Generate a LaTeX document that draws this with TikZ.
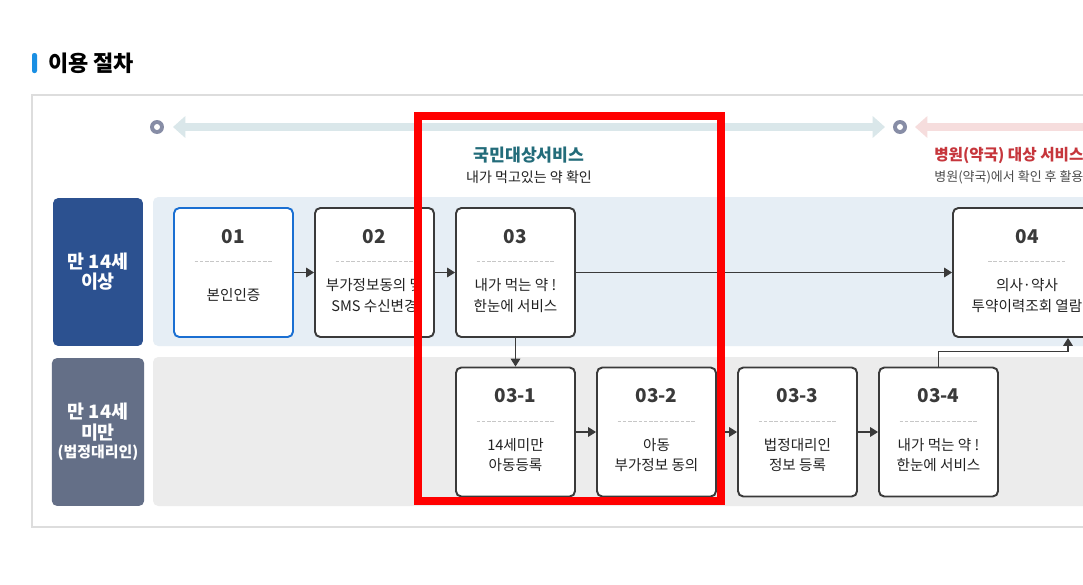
\documentclass[tikz,border=0pt]{standalone}
\usepackage{fontspec}
\setmainfont{Noto Sans CJK KR}
\usetikzlibrary{arrows.meta,calc}

\definecolor{titlebar}{HTML}{1A8FE3}
\definecolor{framegray}{HTML}{DDDDDD}
\definecolor{navylabel}{HTML}{2C5190}
\definecolor{slatelabel}{HTML}{646F87}
\definecolor{bandblue}{HTML}{E6EEF5}
\definecolor{bandgray}{HTML}{ECECEC}
\definecolor{boxline}{HTML}{3A3A3A}
\definecolor{boxblue}{HTML}{1A6FD2}
\definecolor{ringgray}{HTML}{878DA6}
\definecolor{arrowteal}{HTML}{DAE7EA}
\definecolor{arrowpink}{HTML}{F6DDDD}
\definecolor{tealtext}{HTML}{236C7A}
\definecolor{redtext}{HTML}{C6363C}
\definecolor{bodytext}{HTML}{222222}

\tikzset{
  card/.style={draw=boxline, line width=1.1pt, fill=white, rounded corners=3pt,
    minimum width=2.38cm, minimum height=2.58cm, inner sep=0pt},
  cardnum/.style={font=\fontsize{10.8}{12}\selectfont\bfseries, text=boxline},
  cardbody/.style={font=\fontsize{8.3}{11.9}\selectfont, text=bodytext, align=center},
  cardsep/.style={draw=black!22, line width=0.4pt, dash pattern=on 2pt off 1pt},
  agelabel/.style={rounded corners=3pt, minimum width=1.8cm, minimum height=2.96cm,
    text=white, align=center, font=\fontsize{10.5}{11.5}\selectfont\bfseries},
  flow/.style={draw=boxline, line width=0.6pt, -{Triangle[length=4.5pt,width=5.5pt]}},
  ring/.style={circle, fill=ringgray, minimum size=0.28cm, inner sep=0pt},
  wide/.style={line width=5pt, -{Triangle[length=7pt,width=12pt]}},
}

\newcommand\flowcard[5][]{%
  \node[card,#1] (#2) at (#3) {};
  \node[cardnum] at ($(#2.center)+(0,-36)$) {#4};
  \draw[cardsep] ($(#2.center)+(-39,-11)$) -- ($(#2.center)+(39,-11)$);
  \node[cardbody] at ($(#2.center)+(0,23)$) {#5};
}

\begin{document}
\begin{tikzpicture}[x=0.02cm, y=-0.02cm]
  %%%%% START %%%%%
  \useasboundingbox[fill=white] (0,0) rectangle (1083,585);
  \clip (0,0) rectangle (1083,585);

  % heading
  \fill[titlebar, rounded corners=1.2pt] (32,53) rectangle (37,73);
  \node[anchor=west, font=\fontsize{12.5}{14}\selectfont\bfseries] (heading) at (42,63) {이용 절차};

  % frame and bands
  \draw[framegray, line width=0.6pt] (1100,95) -- (32,95) -- (32,527) -- (1100,527);
  \fill[bandblue, rounded corners=3pt] (153,197) rectangle (1110,346);
  \fill[bandgray, rounded corners=3pt] (153,357) rectangle (1110,506);

  \node[agelabel, fill=navylabel] (adult) at (98,272) {만 14세\\이상};
  \node[agelabel, fill=slatelabel] (minor) at (98,432) {만 14세\\미만\\[-1pt]{\fontsize{8.5}{10}\selectfont (법정대리인)}};

  % top guide arrows
  \node[ring] (ringA) at (157,127) {};
  \fill[white] (ringA) circle (0.06cm);
  \node[ring] (ringB) at (900,127) {};
  \fill[white] (ringB) circle (0.06cm);
  \draw[arrowteal, wide] (530,127) -- (173,127);
  \draw[arrowteal, wide] (530,127) -- (885,127);
  \draw[arrowpink, wide] (1120,127) -- (915,127);

  \node[font=\fontsize{9.8}{12}\selectfont\bfseries, text=tealtext] (citizen) at (529,155) {국민대상서비스};
  \node[font=\fontsize{8}{10}\selectfont, text=bodytext] (citizensub) at (529,177) {내가 먹고있는 약 확인};
  \node[anchor=west, inner sep=0pt, font=\fontsize{8.9}{11}\selectfont\bfseries, text=redtext] (hospital) at (934,155) {병원(약국) 대상 서비스};
  \node[anchor=west, inner sep=0pt, font=\fontsize{7.4}{9}\selectfont, text=black!70] (hospitalsub) at (934,177) {병원(약국)에서 확인 후 활용};

  % steps
  \flowcard[draw=boxblue]{s01}{233.5,272.5}{01}{본인인증}
  \flowcard{s02}{374.5,272.5}{02}{부가정보동의 및\\SMS 수신변경}
  \flowcard{s03}{515.5,272.5}{03}{내가 먹는 약 !\\한눈에 서비스}
  \flowcard[minimum width=2.96cm]{s04}{1027,272.5}{04}{의사·약사\\투약이력조회 열람}

  \flowcard{s031}{515.5,432}{03-1}{14세미만\\아동등록}
  \flowcard{s032}{656.5,432}{03-2}{아동\\부가정보 동의}
  \flowcard{s033}{797.5,432}{03-3}{법정대리인\\정보 등록}
  \flowcard{s034}{938.5,432}{03-4}{내가 먹는 약 !\\한눈에 서비스}

  \draw[flow] (s01) -- (s02);
  \draw[flow] (s02) -- (s03);
  \draw[flow] (s03) -- (s04);
  \draw[flow] (s03) -- (s031);
  \draw[flow] (s031) -- (s032);
  \draw[flow] (s032) -- (s033);
  \draw[flow] (s033) -- (s034);
  \draw[flow] (s034.north) |- ($(s04.south)+(41,14)$) -- ($(s04.south)+(41,0)$);

  % highlight
  \draw[red, line width=4.5pt] (418,116) rectangle (721,501);
  %%%%% END %%%%%
\end{tikzpicture}
\end{document}
